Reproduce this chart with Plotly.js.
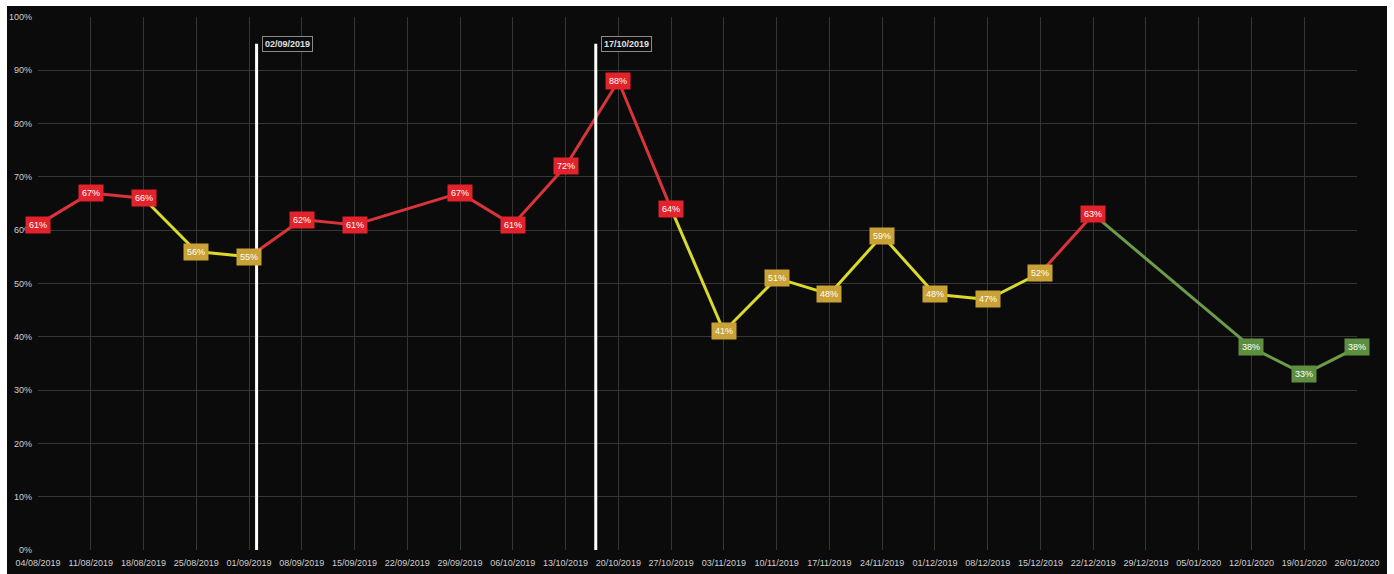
<!DOCTYPE html>
<html>
<head>
<meta charset="utf-8">
<script src="https://cdn.plot.ly/plotly-3.0.1.min.js"></script>
<style>
  html, body { margin: 0; padding: 0; background: #ffffff; width: 1394px; height: 574px; overflow: hidden; }
  #frame { position: absolute; left: 7px; top: 6px; width: 1380px; height: 568px; background: #0b0b0b; }
  #chart { width: 1380px; height: 568px; }
</style>
</head>
<body>
<div id="frame"><div id="chart"></div></div>
<script>
// ---- data ----
const dates = ['2019-08-04','2019-08-11','2019-08-18','2019-08-25','2019-09-01','2019-09-08','2019-09-15',
               '2019-09-29','2019-10-06','2019-10-13','2019-10-20','2019-10-27','2019-11-03','2019-11-10',
               '2019-11-17','2019-11-24','2019-12-01','2019-12-08','2019-12-15','2019-12-22',
               '2020-01-12','2020-01-19','2020-01-26'];
const values = [61,67,66,56,55,62,61,67,61,72,88,64,41,51,48,59,48,47,52,63,38,33,38];
const eventDates = ['2019-09-02','2019-10-17'];
const eventLabels = ['02/09/2019','17/10/2019'];
const axisStart = '2019-08-04';
const axisEnd = '2020-01-26';

// ---- styles ----
const FONT = 'Liberation Sans, Arial, sans-serif';
function status(v) { return v >= 60 ? 'high' : (v >= 40 ? 'mid' : 'low'); }
const boxColor = { high: '#e3232b', mid: '#c9a136', low: '#5e8f40' };
const lineColor = { high: '#d9343a', mid: '#dada2c', low: '#6c9c48' };

const traces = [];
for (let i = 1; i < dates.length; i++) {
  traces.push({
    type: 'scatter', mode: 'lines',
    x: [dates[i-1], dates[i]], y: [values[i-1], values[i]],
    line: { color: lineColor[status(values[i])], width: 3 },
    hoverinfo: 'skip', showlegend: false
  });
}

const annotations = dates.map((d, i) => ({
  x: d, y: values[i], xref: 'x', yref: 'y',
  text: values[i] + '%', showarrow: false,
  bgcolor: boxColor[status(values[i])],
  font: { family: FONT, size: 9, color: '#ffffff' },
  borderpad: 3, xanchor: 'center', yanchor: 'middle'
}));
eventDates.forEach((d, i) => {
  annotations.push({
    x: d, y: 95, xref: 'x', yref: 'y',
    text: '<b>' + eventLabels[i] + '</b>', showarrow: false,
    xanchor: 'left', yanchor: 'middle', xshift: 5,
    bgcolor: '#0b0b0b', bordercolor: '#8a8a8a', borderwidth: 1, borderpad: 2,
    font: { family: FONT, size: 9, color: '#e0e0e0' }
  });
});

const shapes = eventDates.map(d => ({
  type: 'line', xref: 'x', yref: 'y', x0: d, x1: d, y0: 0, y1: 95,
  line: { color: '#ffffff', width: 3 }, layer: 'above'
}));

const layout = {
  width: 1380, height: 568,
  margin: { l: 31, r: 30, t: 11, b: 24 },
  paper_bgcolor: '#0b0b0b', plot_bgcolor: '#0b0b0b',
  showlegend: false,
  font: { family: FONT, size: 9, color: '#d0d0d0' },
  xaxis: {
    type: 'date', range: [axisStart, axisEnd],
    tick0: axisStart, dtick: 7 * 86400000, tickformat: '%d/%m/%Y', tickangle: 0,
    showgrid: true, gridcolor: '#363636', gridwidth: 1,
    zeroline: false, showline: false, ticks: '', automargin: false,
    ticklabelstandoff: 6,
    tickfont: { family: FONT, size: 9, color: '#cfcfcf' }
  },
  yaxis: {
    range: [0, 100], dtick: 10, ticksuffix: '%',
    showgrid: true, gridcolor: '#363636', gridwidth: 1,
    zeroline: false, showline: false, ticks: '', automargin: false,
    ticklabelstandoff: 5,
    tickfont: { family: FONT, size: 9, color: '#cfcfcf' }
  },
  shapes: shapes,
  annotations: annotations
};

Plotly.newPlot('chart', traces, layout, { displayModeBar: false, staticPlot: true });
</script>
</body>
</html>
